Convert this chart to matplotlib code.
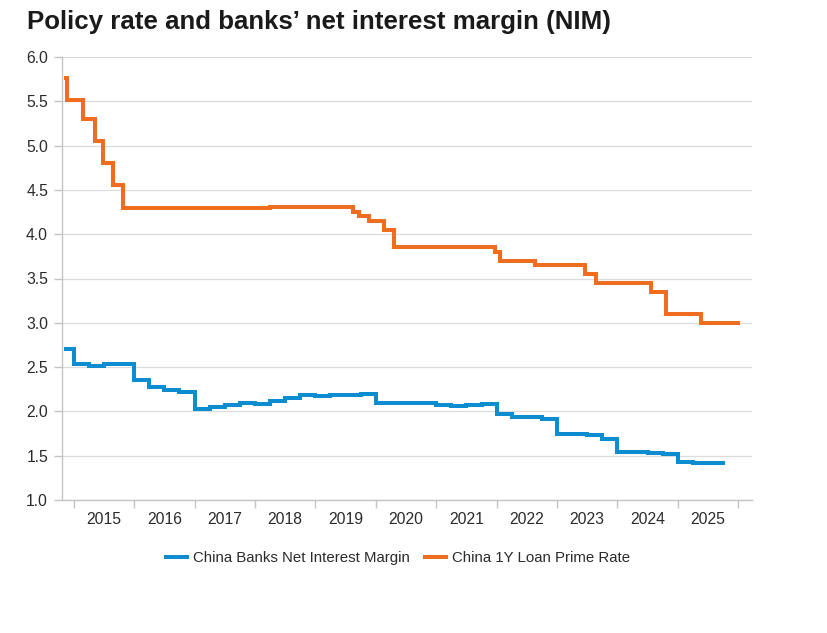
import matplotlib.pyplot as plt
import numpy as np

plt.rcParams['font.family'] = ['Liberation Sans', 'DejaVu Sans']

# ---------- Data (decimal years) ----------
# China banks net interest margin, quarterly (value holds over the quarter)
nim_x = [2014.87, 2015.0, 2015.25, 2015.5, 2015.75,
         2016.0, 2016.25, 2016.5, 2016.75,
         2017.0, 2017.25, 2017.5, 2017.75,
         2018.0, 2018.25, 2018.5, 2018.75,
         2019.0, 2019.25, 2019.5, 2019.75,
         2020.0, 2020.25, 2020.5, 2020.75,
         2021.0, 2021.25, 2021.5, 2021.75,
         2022.0, 2022.25, 2022.5, 2022.75,
         2023.0, 2023.25, 2023.5, 2023.75,
         2024.0, 2024.25, 2024.5, 2024.75,
         2025.0, 2025.25, 2025.5, 2025.74]
nim_y = [2.70, 2.53, 2.51, 2.53, 2.54,
         2.35, 2.27, 2.24, 2.22,
         2.03, 2.05, 2.07, 2.10,
         2.08, 2.12, 2.15, 2.18,
         2.17, 2.18, 2.19, 2.20,
         2.10, 2.09, 2.09, 2.10,
         2.07, 2.06, 2.07, 2.08,
         1.97, 1.94, 1.94, 1.91,
         1.74, 1.74, 1.73, 1.69,
         1.54, 1.54, 1.53, 1.52,
         1.43, 1.42, 1.42, 1.42]

# China 1Y loan prime rate, change dates
lpr_x = [2014.87, 2014.89, 2015.16, 2015.36, 2015.49, 2015.65, 2015.81,
         2018.25, 2019.63, 2019.72, 2019.89, 2020.14, 2020.30,
         2021.97, 2022.05, 2022.64, 2023.47, 2023.64, 2024.56,
         2024.80, 2025.38, 2025.99]
lpr_y = [5.76, 5.51, 5.30, 5.05, 4.80, 4.55, 4.30,
         4.31, 4.25, 4.20, 4.15, 4.05, 3.85,
         3.80, 3.70, 3.65, 3.55, 3.45, 3.35,
         3.10, 3.00, 3.00]

years = list(range(2015, 2026))
yticks = [1.0, 1.5, 2.0, 2.5, 3.0, 3.5, 4.0, 4.5, 5.0, 5.5, 6.0]

BLUE = "#0b8dcf"
ORANGE = "#f06c1e"
TXT = "#2b2b2b"

fig = plt.figure(figsize=(8.28, 6.33), dpi=100)
ax = fig.add_axes([62 / 828, 1 - 500 / 633, (752 - 62) / 828, (500 - 57) / 633])

ax.step(nim_x, nim_y, where="post", color=BLUE, lw=2.9,
        label="China Banks Net Interest Margin", solid_joinstyle="miter")
ax.step(lpr_x, lpr_y, where="post", color=ORANGE, lw=2.9,
        label="China 1Y Loan Prime Rate", solid_joinstyle="miter")

ax.set_xlim(2014.806, 2026.227)
ax.set_ylim(1.0, 6.0)

# year boundary ticks, labels centred on the year
ax.set_xticks(years + [2026])
ax.set_xticklabels([])
ax.set_xticks([y + 0.5 for y in years], minor=True)
ax.set_xticklabels([str(y) for y in years], minor=True, fontsize=11.3, color=TXT)
ax.tick_params(axis="x", which="major", length=6, color="#c4c4c4", width=1)
ax.tick_params(axis="x", which="minor", length=0, pad=9)

ax.set_yticks(yticks)
ax.set_yticklabels([f"{v:.1f}" for v in yticks], fontsize=11.3, color=TXT)
ax.tick_params(axis="y", length=6, color="#c4c4c4", width=1, pad=4)

ax.grid(axis="y", color="#dcdcdc", lw=0.9)
ax.set_axisbelow(True)
for s in ["top", "right"]:
    ax.spines[s].set_visible(False)
for s in ["left", "bottom"]:
    ax.spines[s].set_color("#c4c4c4")
    ax.spines[s].set_linewidth(1)

fig.text(27 / 828, 1 - 22 / 633, "Policy rate and banks’ net interest margin (NIM)",
         fontsize=18.6, fontweight="bold", color="#1a1a1a", va="center", ha="left")

fig.legend(loc="center", bbox_to_anchor=(398 / 828, 1 - 558 / 633), ncol=2,
           frameon=False, fontsize=10.8, handlelength=1.4, handletextpad=0.4,
           columnspacing=1.0, labelcolor=TXT)

fig.savefig("out.png", dpi=100)
